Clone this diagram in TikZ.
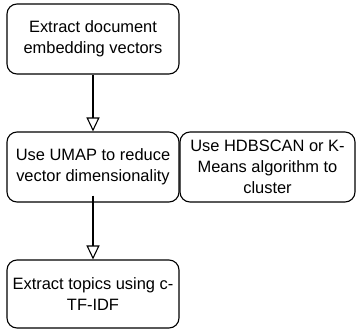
\documentclass[tikz,border=0pt]{standalone}
\usepackage{fontspec}
\setmainfont{Liberation Sans}
\usetikzlibrary{positioning, calc, arrows.meta}

\begin{document}
\begin{tikzpicture}
    [
        x=1bp, y=-1bp,
        step_box/.style={rectangle, rounded corners=10bp, draw=black, line width=1.1bp, fill=white, minimum height=70bp, minimum width=172bp, inner sep=0pt, align=center, font=\fontsize{16.5}{21}\selectfont},
        flow_line/.style={line width=1.1bp, -{Triangle[open, length=14bp, width=13bp, fill=white]}},
    ]
  \useasboundingbox (0,0) rectangle (357,330);

  \node[step_box] (A) at (93,39) {Extract document\\embedding vectors};
  \node[step_box] (B) at (93,167) {Use UMAP to reduce\\vector dimensionality};
  \node[step_box, minimum width=175bp] (C) at (267.5,167) {Use HDBSCAN or K-\\Means algorithm to\\cluster};
  \node[step_box, minimum height=68bp] (D) at (93,294) {Extract topics using c-\\TF-IDF};

  \draw[flow_line] (A) -- (B);
  \draw[flow_line] ([yshift=7bp]B.south) -- (D);
\end{tikzpicture}
\end{document}
